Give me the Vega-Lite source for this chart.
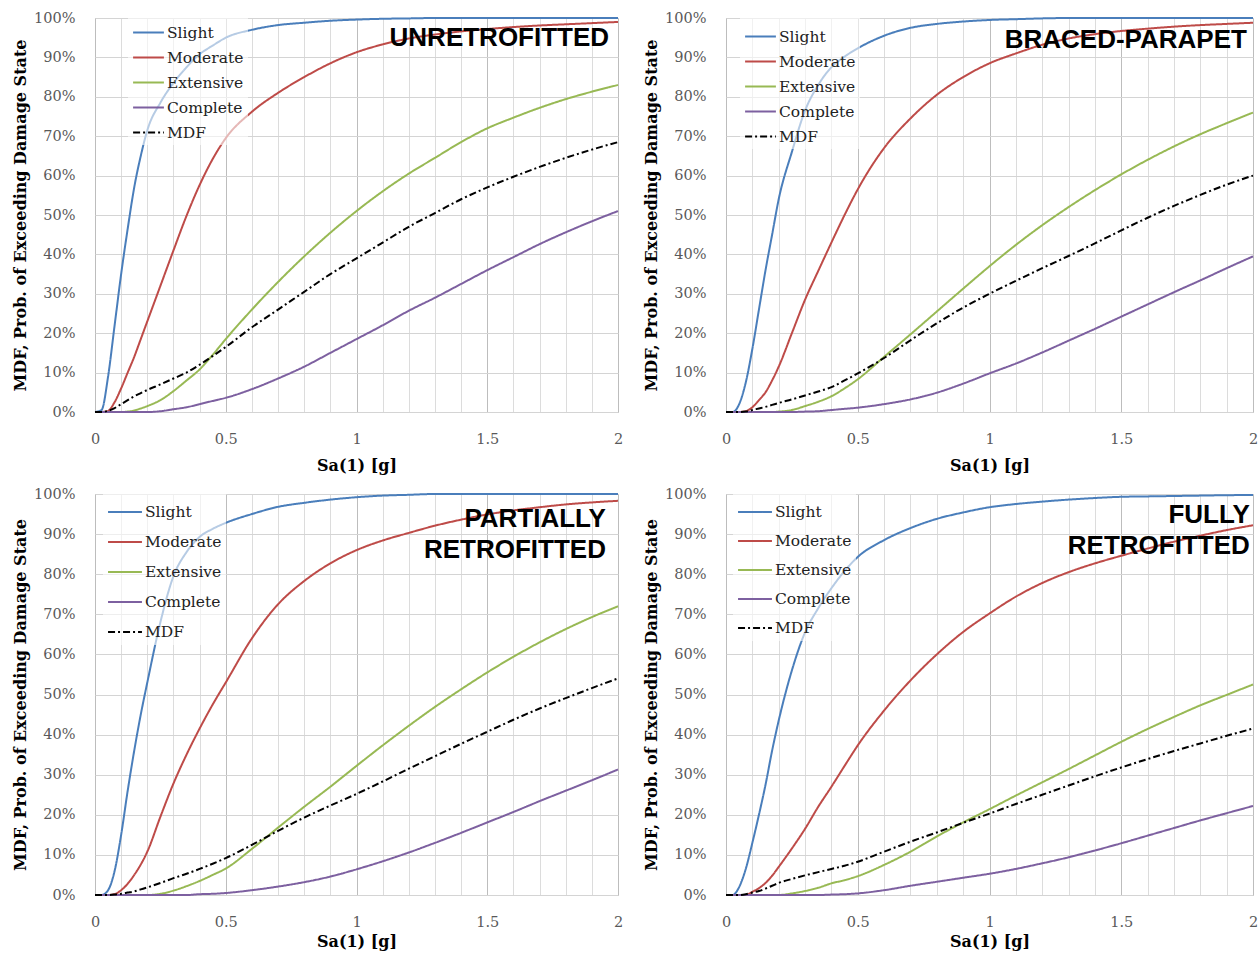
{
  "$schema": "https://vega.github.io/schema/vega-lite/v6.json",
  "padding": {"left": 12, "top": 9, "right": 5, "bottom": 5},
  "background": "white",
  "datasets": {
    "U": [
      {"x":0,"Slight":0,"Moderate":0,"Extensive":0,"Complete":0,"MDF":0},
      {"x":0.025,"Slight":0.5,"Moderate":0,"Extensive":0,"Complete":0,"MDF":0},
      {"x":0.05,"Slight":9,"Moderate":0.3,"Extensive":0,"Complete":0,"MDF":0.3},
      {"x":0.075,"Slight":22,"Moderate":2.5,"Extensive":0,"Complete":0,"MDF":1},
      {"x":0.1,"Slight":35,"Moderate":6,"Extensive":0,"Complete":0,"MDF":2},
      {"x":0.125,"Slight":46.5,"Moderate":10,"Extensive":0.1,"Complete":0,"MDF":3},
      {"x":0.15,"Slight":57,"Moderate":14,"Extensive":0.4,"Complete":0,"MDF":4},
      {"x":0.175,"Slight":65,"Moderate":18.5,"Extensive":0.9,"Complete":0,"MDF":4.8},
      {"x":0.2,"Slight":71.5,"Moderate":23,"Extensive":1.5,"Complete":0,"MDF":5.6},
      {"x":0.25,"Slight":78.5,"Moderate":32,"Extensive":3,"Complete":0.2,"MDF":7},
      {"x":0.3,"Slight":83.5,"Moderate":41,"Extensive":5.3,"Complete":0.7,"MDF":8.5},
      {"x":0.35,"Slight":87.5,"Moderate":49.8,"Extensive":8,"Complete":1.2,"MDF":10},
      {"x":0.4,"Slight":90.8,"Moderate":57.6,"Extensive":10.8,"Complete":2,"MDF":12},
      {"x":0.45,"Slight":93,"Moderate":64.2,"Extensive":14.5,"Complete":2.8,"MDF":14.2},
      {"x":0.5,"Slight":95,"Moderate":69.5,"Extensive":18.5,"Complete":3.6,"MDF":16.5},
      {"x":0.6,"Slight":97,"Moderate":76.2,"Extensive":26,"Complete":5.8,"MDF":21.5},
      {"x":0.7,"Slight":98.2,"Moderate":81,"Extensive":33,"Complete":8.5,"MDF":26},
      {"x":0.8,"Slight":98.8,"Moderate":85,"Extensive":39.5,"Complete":11.5,"MDF":30.5},
      {"x":0.9,"Slight":99.3,"Moderate":88.5,"Extensive":45.5,"Complete":15,"MDF":35},
      {"x":1.0,"Slight":99.6,"Moderate":91.3,"Extensive":51,"Complete":18.5,"MDF":39},
      {"x":1.1,"Slight":99.8,"Moderate":93.3,"Extensive":56,"Complete":22,"MDF":43},
      {"x":1.2,"Slight":99.9,"Moderate":94.8,"Extensive":60.5,"Complete":25.7,"MDF":47},
      {"x":1.3,"Slight":100,"Moderate":95.8,"Extensive":64.5,"Complete":29,"MDF":50.5},
      {"x":1.4,"Slight":100,"Moderate":96.6,"Extensive":68.5,"Complete":32.5,"MDF":54},
      {"x":1.5,"Slight":100,"Moderate":97.2,"Extensive":72,"Complete":36,"MDF":57},
      {"x":1.6,"Slight":100,"Moderate":97.7,"Extensive":74.7,"Complete":39.3,"MDF":59.7},
      {"x":1.7,"Slight":100,"Moderate":98.1,"Extensive":77.2,"Complete":42.6,"MDF":62.2},
      {"x":1.8,"Slight":100,"Moderate":98.4,"Extensive":79.4,"Complete":45.6,"MDF":64.5},
      {"x":1.9,"Slight":100,"Moderate":98.7,"Extensive":81.3,"Complete":48.4,"MDF":66.6},
      {"x":2.0,"Slight":100,"Moderate":99,"Extensive":83,"Complete":51,"MDF":68.5}
    ],
    "B": [
      {"x":0,"Slight":0,"Moderate":0,"Extensive":0,"Complete":0,"MDF":0},
      {"x":0.025,"Slight":0,"Moderate":0,"Extensive":0,"Complete":0,"MDF":0},
      {"x":0.05,"Slight":2,"Moderate":0,"Extensive":0,"Complete":0,"MDF":0},
      {"x":0.075,"Slight":7.5,"Moderate":0.2,"Extensive":0,"Complete":0,"MDF":0.1},
      {"x":0.1,"Slight":16,"Moderate":1.2,"Extensive":0,"Complete":0,"MDF":0.5},
      {"x":0.125,"Slight":26,"Moderate":3,"Extensive":0,"Complete":0,"MDF":0.9},
      {"x":0.15,"Slight":36,"Moderate":5,"Extensive":0,"Complete":0,"MDF":1.3},
      {"x":0.175,"Slight":45,"Moderate":8,"Extensive":0,"Complete":0,"MDF":1.8},
      {"x":0.2,"Slight":54,"Moderate":11.5,"Extensive":0.1,"Complete":0,"MDF":2.3},
      {"x":0.25,"Slight":66,"Moderate":20,"Extensive":0.5,"Complete":0,"MDF":3.2},
      {"x":0.3,"Slight":76.5,"Moderate":28.5,"Extensive":1.5,"Complete":0.1,"MDF":4.2},
      {"x":0.35,"Slight":83,"Moderate":35.8,"Extensive":2.6,"Complete":0.2,"MDF":5.2},
      {"x":0.4,"Slight":87.5,"Moderate":43,"Extensive":4,"Complete":0.5,"MDF":6.3},
      {"x":0.45,"Slight":90.2,"Moderate":50,"Extensive":6,"Complete":0.8,"MDF":8},
      {"x":0.5,"Slight":92.3,"Moderate":56.5,"Extensive":8.3,"Complete":1.1,"MDF":9.8},
      {"x":0.6,"Slight":95.5,"Moderate":67,"Extensive":14,"Complete":2,"MDF":13.7},
      {"x":0.7,"Slight":97.5,"Moderate":74.5,"Extensive":19.7,"Complete":3.2,"MDF":18.2},
      {"x":0.8,"Slight":98.5,"Moderate":80.5,"Extensive":25.5,"Complete":4.9,"MDF":22.5},
      {"x":0.9,"Slight":99.1,"Moderate":85,"Extensive":31.3,"Complete":7.2,"MDF":26.5},
      {"x":1.0,"Slight":99.5,"Moderate":88.5,"Extensive":37,"Complete":9.8,"MDF":30},
      {"x":1.1,"Slight":99.7,"Moderate":91,"Extensive":42.4,"Complete":12.3,"MDF":33.3},
      {"x":1.2,"Slight":99.9,"Moderate":93.2,"Extensive":47.4,"Complete":15.1,"MDF":36.5},
      {"x":1.3,"Slight":100,"Moderate":94.8,"Extensive":52,"Complete":18.1,"MDF":39.6},
      {"x":1.4,"Slight":100,"Moderate":95.9,"Extensive":56.3,"Complete":21.1,"MDF":42.8},
      {"x":1.5,"Slight":100,"Moderate":96.7,"Extensive":60.3,"Complete":24.2,"MDF":46.1},
      {"x":1.6,"Slight":100,"Moderate":97.3,"Extensive":64,"Complete":27.3,"MDF":49.3},
      {"x":1.7,"Slight":100,"Moderate":97.8,"Extensive":67.4,"Complete":30.4,"MDF":52.3},
      {"x":1.8,"Slight":100,"Moderate":98.2,"Extensive":70.5,"Complete":33.4,"MDF":55.1},
      {"x":1.9,"Slight":100,"Moderate":98.5,"Extensive":73.3,"Complete":36.5,"MDF":57.7},
      {"x":2.0,"Slight":100,"Moderate":98.8,"Extensive":76,"Complete":39.5,"MDF":60}
    ],
    "P": [
      {"x":0,"Slight":0,"Moderate":0,"Extensive":0,"Complete":0,"MDF":0},
      {"x":0.025,"Slight":0,"Moderate":0,"Extensive":0,"Complete":0,"MDF":0},
      {"x":0.05,"Slight":1.2,"Moderate":0,"Extensive":0,"Complete":0,"MDF":0},
      {"x":0.075,"Slight":6,"Moderate":0.2,"Extensive":0,"Complete":0,"MDF":0.1},
      {"x":0.1,"Slight":15,"Moderate":1.2,"Extensive":0,"Complete":0,"MDF":0.3},
      {"x":0.125,"Slight":26,"Moderate":2.8,"Extensive":0,"Complete":0,"MDF":0.6},
      {"x":0.15,"Slight":36,"Moderate":5,"Extensive":0,"Complete":0,"MDF":0.9},
      {"x":0.175,"Slight":45,"Moderate":7.6,"Extensive":0,"Complete":0,"MDF":1.4},
      {"x":0.2,"Slight":53,"Moderate":10.8,"Extensive":0,"Complete":0,"MDF":1.9},
      {"x":0.25,"Slight":68,"Moderate":19.5,"Extensive":0.3,"Complete":0,"MDF":3},
      {"x":0.3,"Slight":79.5,"Moderate":27.8,"Extensive":1.1,"Complete":0,"MDF":4.2},
      {"x":0.35,"Slight":85.5,"Moderate":35,"Extensive":2.2,"Complete":0,"MDF":5.3},
      {"x":0.4,"Slight":89.3,"Moderate":41.5,"Extensive":3.5,"Complete":0.2,"MDF":6.5},
      {"x":0.45,"Slight":91.3,"Moderate":47.5,"Extensive":5,"Complete":0.3,"MDF":7.8},
      {"x":0.5,"Slight":92.8,"Moderate":53,"Extensive":6.6,"Complete":0.5,"MDF":9.2},
      {"x":0.6,"Slight":95,"Moderate":64,"Extensive":11.5,"Complete":1.2,"MDF":12.5},
      {"x":0.7,"Slight":96.8,"Moderate":72.5,"Extensive":16.8,"Complete":2.1,"MDF":16},
      {"x":0.8,"Slight":97.8,"Moderate":78.3,"Extensive":22,"Complete":3.2,"MDF":19.3},
      {"x":0.9,"Slight":98.6,"Moderate":82.7,"Extensive":27,"Complete":4.6,"MDF":22.3},
      {"x":1.0,"Slight":99.2,"Moderate":86,"Extensive":32.2,"Complete":6.4,"MDF":25.2},
      {"x":1.1,"Slight":99.6,"Moderate":88.4,"Extensive":37.3,"Complete":8.4,"MDF":28.3},
      {"x":1.2,"Slight":99.8,"Moderate":90.3,"Extensive":42.2,"Complete":10.6,"MDF":31.5},
      {"x":1.3,"Slight":100,"Moderate":92.1,"Extensive":46.9,"Complete":13,"MDF":34.6},
      {"x":1.4,"Slight":100,"Moderate":93.6,"Extensive":51.3,"Complete":15.5,"MDF":37.7},
      {"x":1.5,"Slight":100,"Moderate":94.9,"Extensive":55.5,"Complete":18.1,"MDF":40.7},
      {"x":1.6,"Slight":100,"Moderate":95.9,"Extensive":59.4,"Complete":20.7,"MDF":43.7},
      {"x":1.7,"Slight":100,"Moderate":96.7,"Extensive":63,"Complete":23.4,"MDF":46.5},
      {"x":1.8,"Slight":100,"Moderate":97.4,"Extensive":66.3,"Complete":26,"MDF":49.1},
      {"x":1.9,"Slight":100,"Moderate":97.9,"Extensive":69.3,"Complete":28.6,"MDF":51.6},
      {"x":2.0,"Slight":100,"Moderate":98.3,"Extensive":72,"Complete":31.3,"MDF":54}
    ],
    "F": [
      {"x":0,"Slight":0,"Moderate":0,"Extensive":0,"Complete":0,"MDF":0},
      {"x":0.025,"Slight":0,"Moderate":0,"Extensive":0,"Complete":0,"MDF":0},
      {"x":0.05,"Slight":2,"Moderate":0,"Extensive":0,"Complete":0,"MDF":0},
      {"x":0.075,"Slight":6.5,"Moderate":0,"Extensive":0,"Complete":0,"MDF":0.2},
      {"x":0.1,"Slight":13,"Moderate":0.8,"Extensive":0,"Complete":0,"MDF":0.6},
      {"x":0.125,"Slight":20,"Moderate":1.7,"Extensive":0,"Complete":0,"MDF":1},
      {"x":0.15,"Slight":27.5,"Moderate":3,"Extensive":0,"Complete":0,"MDF":1.6},
      {"x":0.175,"Slight":36,"Moderate":4.8,"Extensive":0,"Complete":0,"MDF":2.3},
      {"x":0.2,"Slight":43.5,"Moderate":7,"Extensive":0,"Complete":0,"MDF":3},
      {"x":0.25,"Slight":56,"Moderate":11.6,"Extensive":0.4,"Complete":0,"MDF":4},
      {"x":0.3,"Slight":65.5,"Moderate":16.5,"Extensive":1,"Complete":0,"MDF":4.9},
      {"x":0.35,"Slight":71.5,"Moderate":22,"Extensive":1.8,"Complete":0,"MDF":5.7},
      {"x":0.4,"Slight":76.5,"Moderate":27,"Extensive":2.9,"Complete":0.1,"MDF":6.5},
      {"x":0.45,"Slight":80.8,"Moderate":32.2,"Extensive":3.7,"Complete":0.2,"MDF":7.3},
      {"x":0.5,"Slight":84.3,"Moderate":37.3,"Extensive":4.7,"Complete":0.4,"MDF":8.3},
      {"x":0.6,"Slight":88.5,"Moderate":46,"Extensive":7.5,"Complete":1.2,"MDF":10.8},
      {"x":0.7,"Slight":91.5,"Moderate":53.5,"Extensive":10.8,"Complete":2.3,"MDF":13.3},
      {"x":0.8,"Slight":93.8,"Moderate":60,"Extensive":14.6,"Complete":3.3,"MDF":15.6},
      {"x":0.9,"Slight":95.4,"Moderate":65.6,"Extensive":18.1,"Complete":4.3,"MDF":18},
      {"x":1.0,"Slight":96.7,"Moderate":70.2,"Extensive":21.4,"Complete":5.3,"MDF":20.3},
      {"x":1.1,"Slight":97.5,"Moderate":74.4,"Extensive":24.8,"Complete":6.5,"MDF":22.7},
      {"x":1.2,"Slight":98.1,"Moderate":77.8,"Extensive":28.1,"Complete":7.9,"MDF":25},
      {"x":1.3,"Slight":98.6,"Moderate":80.5,"Extensive":31.4,"Complete":9.4,"MDF":27.3},
      {"x":1.4,"Slight":99,"Moderate":82.7,"Extensive":34.8,"Complete":11.1,"MDF":29.6},
      {"x":1.5,"Slight":99.3,"Moderate":84.6,"Extensive":38.2,"Complete":12.9,"MDF":31.8},
      {"x":1.6,"Slight":99.4,"Moderate":86.4,"Extensive":41.4,"Complete":14.8,"MDF":33.9},
      {"x":1.7,"Slight":99.5,"Moderate":88.1,"Extensive":44.4,"Complete":16.7,"MDF":35.9},
      {"x":1.8,"Slight":99.6,"Moderate":89.6,"Extensive":47.3,"Complete":18.6,"MDF":37.8},
      {"x":1.9,"Slight":99.7,"Moderate":91,"Extensive":49.9,"Complete":20.4,"MDF":39.7},
      {"x":2.0,"Slight":99.75,"Moderate":92.2,"Extensive":52.5,"Complete":22.2,"MDF":41.5}
    ]
  },
  "columns": 2,
  "spacing": {"row": 11, "column": 19},
  "resolve": {
    "scale": {"color": "independent", "strokeDash": "independent"},
    "legend": {"color": "independent", "strokeDash": "independent"}
  },
  "concat": [
    {
      "width": 523, "height": 394,
      "layer": [
        {
          "data": {"name": "U"},
          "transform": [{"fold": ["Slight", "Moderate", "Extensive", "Complete", "MDF"], "as": ["s", "p"]}],
          "mark": {"type": "line", "strokeWidth": 2, "interpolate": "monotone"},
          "encoding": {
            "x": {"field": "x", "type": "quantitative", "scale": {"domain": [0, 2], "nice": false},
              "axis": {"title": "Sa(1) [g]", "tickCount": 30, "values": [0,0.1,0.2,0.3,0.4,0.5,0.6,0.7,0.8,0.9,1,1.1,1.2,1.3,1.4,1.5,1.6,1.7,1.8,1.9,2],
                "labelExpr": "round(datum.value*10) % 5 == 0 ? format(datum.value, '~g') : ''",
                "labelPadding": 20, "titlePadding": 12, "labelFlush": false, "labelOverlap": false,
                "gridColor": {"condition": {"test": "round(datum.value*10) % 5 == 0", "value": "#bdbdbd"}, "value": "#dcdcdc"}}},
            "y": {"field": "p", "type": "quantitative", "scale": {"domain": [0, 100], "nice": false},
              "axis": {"title": "MDF, Prob. of Exceeding Damage State", "tickCount": 15, "labelOverlap": false, "values": [0,10,20,30,40,50,60,70,80,90,100],
                "labelExpr": "datum.value + '%'", "labelPadding": 20, "titlePadding": 5}},
            "color": {"field": "s", "type": "nominal",
              "scale": {"domain": ["Slight", "Moderate", "Extensive", "Complete", "MDF"], "range": ["#4a7ebb", "#be4b48", "#98b954", "#7d60a0", "#000000"]},
              "legend": {"title": null, "orient": "none", "legendX": 33, "legendY": -6, "rowPadding": 0, "symbolSize": 950}},
            "strokeDash": {"field": "s", "type": "nominal",
              "scale": {"domain": ["Slight", "Moderate", "Extensive", "Complete", "MDF"], "range": [[1, 0], [1, 0], [1, 0], [1, 0], [7, 3, 2, 3]]},
              "legend": {"title": null, "orient": "none", "legendX": 33, "legendY": -6, "rowPadding": 0, "symbolSize": 950}}
          }
        },
        {
          "data": {"values": [{"t": "UNRETROFITTED"}]},
          "mark": {"type": "text", "font": "Liberation Sans", "fontWeight": "bold", "fontSize": 26, "align": "right", "baseline": "alphabetic", "color": "#000"},
          "encoding": {"x": {"datum": 1.966}, "y": {"datum": 93}, "text": {"field": "t"}}
        }
      ]
    },
    {
      "width": 527, "height": 394,
      "layer": [
        {
          "data": {"name": "B"},
          "transform": [{"fold": ["Slight", "Moderate", "Extensive", "Complete", "MDF"], "as": ["s", "p"]}],
          "mark": {"type": "line", "strokeWidth": 2, "interpolate": "monotone"},
          "encoding": {
            "x": {"field": "x", "type": "quantitative", "scale": {"domain": [0, 2], "nice": false},
              "axis": {"title": "Sa(1) [g]", "tickCount": 30, "values": [0,0.1,0.2,0.3,0.4,0.5,0.6,0.7,0.8,0.9,1,1.1,1.2,1.3,1.4,1.5,1.6,1.7,1.8,1.9,2],
                "labelExpr": "round(datum.value*10) % 5 == 0 ? format(datum.value, '~g') : ''",
                "labelPadding": 20, "titlePadding": 12, "labelFlush": false, "labelOverlap": false,
                "gridColor": {"condition": {"test": "round(datum.value*10) % 5 == 0", "value": "#bdbdbd"}, "value": "#dcdcdc"}}},
            "y": {"field": "p", "type": "quantitative", "scale": {"domain": [0, 100], "nice": false},
              "axis": {"title": "MDF, Prob. of Exceeding Damage State", "tickCount": 15, "labelOverlap": false, "values": [0,10,20,30,40,50,60,70,80,90,100],
                "labelExpr": "datum.value + '%'", "labelPadding": 20, "titlePadding": 5}},
            "color": {"field": "s", "type": "nominal",
              "scale": {"domain": ["Slight", "Moderate", "Extensive", "Complete", "MDF"], "range": ["#4a7ebb", "#be4b48", "#98b954", "#7d60a0", "#000000"]},
              "legend": {"title": null, "orient": "none", "legendX": 14, "legendY": -2, "rowPadding": 0, "symbolSize": 950}},
            "strokeDash": {"field": "s", "type": "nominal",
              "scale": {"domain": ["Slight", "Moderate", "Extensive", "Complete", "MDF"], "range": [[1, 0], [1, 0], [1, 0], [1, 0], [7, 3, 2, 3]]},
              "legend": {"title": null, "orient": "none", "legendX": 14, "legendY": -2, "rowPadding": 0, "symbolSize": 950}}
          }
        },
        {
          "data": {"values": [{"t": "BRACED-PARAPET"}]},
          "mark": {"type": "text", "font": "Liberation Sans", "fontWeight": "bold", "fontSize": 26, "align": "right", "baseline": "alphabetic", "color": "#000"},
          "encoding": {"x": {"datum": 1.977}, "y": {"datum": 92.3}, "text": {"field": "t"}}
        }
      ]
    },
    {
      "width": 523, "height": 401,
      "layer": [
        {
          "data": {"name": "P"},
          "transform": [{"fold": ["Slight", "Moderate", "Extensive", "Complete", "MDF"], "as": ["s", "p"]}],
          "mark": {"type": "line", "strokeWidth": 2, "interpolate": "monotone"},
          "encoding": {
            "x": {"field": "x", "type": "quantitative", "scale": {"domain": [0, 2], "nice": false},
              "axis": {"title": "Sa(1) [g]", "tickCount": 30, "values": [0,0.1,0.2,0.3,0.4,0.5,0.6,0.7,0.8,0.9,1,1.1,1.2,1.3,1.4,1.5,1.6,1.7,1.8,1.9,2],
                "labelExpr": "round(datum.value*10) % 5 == 0 ? format(datum.value, '~g') : ''",
                "labelPadding": 20, "titlePadding": 5, "labelFlush": false, "labelOverlap": false,
                "gridColor": {"condition": {"test": "round(datum.value*10) % 5 == 0", "value": "#bdbdbd"}, "value": "#dcdcdc"}}},
            "y": {"field": "p", "type": "quantitative", "scale": {"domain": [0, 100], "nice": false},
              "axis": {"title": "MDF, Prob. of Exceeding Damage State", "tickCount": 15, "labelOverlap": false, "values": [0,10,20,30,40,50,60,70,80,90,100],
                "labelExpr": "datum.value + '%'", "labelPadding": 20, "titlePadding": 5}},
            "color": {"field": "s", "type": "nominal",
              "scale": {"domain": ["Slight", "Moderate", "Extensive", "Complete", "MDF"], "range": ["#4a7ebb", "#be4b48", "#98b954", "#7d60a0", "#000000"]},
              "legend": {"title": null, "orient": "none", "legendX": 8, "legendY": -4, "rowPadding": 3}},
            "strokeDash": {"field": "s", "type": "nominal",
              "scale": {"domain": ["Slight", "Moderate", "Extensive", "Complete", "MDF"], "range": [[1, 0], [1, 0], [1, 0], [1, 0], [7, 3, 2, 3]]},
              "legend": {"title": null, "orient": "none", "legendX": 8, "legendY": -4, "rowPadding": 3}}
          }
        },
        {
          "data": {"values": [{"t": "PARTIALLY\nRETROFITTED"}]},
          "mark": {"type": "text", "font": "Liberation Sans", "fontWeight": "bold", "fontSize": 26, "align": "right", "baseline": "alphabetic", "color": "#000", "lineBreak": "\n", "lineHeight": 31},
          "encoding": {"x": {"datum": 1.954}, "y": {"datum": 91.8}, "text": {"field": "t"}}
        }
      ]
    },
    {
      "width": 527, "height": 401,
      "layer": [
        {
          "data": {"name": "F"},
          "transform": [{"fold": ["Slight", "Moderate", "Extensive", "Complete", "MDF"], "as": ["s", "p"]}],
          "mark": {"type": "line", "strokeWidth": 2, "interpolate": "monotone"},
          "encoding": {
            "x": {"field": "x", "type": "quantitative", "scale": {"domain": [0, 2], "nice": false},
              "axis": {"title": "Sa(1) [g]", "tickCount": 30, "values": [0,0.1,0.2,0.3,0.4,0.5,0.6,0.7,0.8,0.9,1,1.1,1.2,1.3,1.4,1.5,1.6,1.7,1.8,1.9,2],
                "labelExpr": "round(datum.value*10) % 5 == 0 ? format(datum.value, '~g') : ''",
                "labelPadding": 20, "titlePadding": 5, "labelFlush": false, "labelOverlap": false,
                "gridColor": {"condition": {"test": "round(datum.value*10) % 5 == 0", "value": "#bdbdbd"}, "value": "#dcdcdc"}}},
            "y": {"field": "p", "type": "quantitative", "scale": {"domain": [0, 100], "nice": false},
              "axis": {"title": "MDF, Prob. of Exceeding Damage State", "tickCount": 15, "labelOverlap": false, "values": [0,10,20,30,40,50,60,70,80,90,100],
                "labelExpr": "datum.value + '%'", "labelPadding": 20, "titlePadding": 5}},
            "color": {"field": "s", "type": "nominal",
              "scale": {"domain": ["Slight", "Moderate", "Extensive", "Complete", "MDF"], "range": ["#4a7ebb", "#be4b48", "#98b954", "#7d60a0", "#000000"]},
              "legend": {"title": null, "orient": "none", "legendX": 7, "legendY": -4, "rowPadding": 2}},
            "strokeDash": {"field": "s", "type": "nominal",
              "scale": {"domain": ["Slight", "Moderate", "Extensive", "Complete", "MDF"], "range": [[1, 0], [1, 0], [1, 0], [1, 0], [7, 3, 2, 3]]},
              "legend": {"title": null, "orient": "none", "legendX": 7, "legendY": -4, "rowPadding": 2}}
          }
        },
        {
          "data": {"values": [{"t": "FULLY\nRETROFITTED"}]},
          "mark": {"type": "text", "font": "Liberation Sans", "fontWeight": "bold", "fontSize": 26, "align": "right", "baseline": "alphabetic", "color": "#000", "lineBreak": "\n", "lineHeight": 31},
          "encoding": {"x": {"datum": 1.988}, "y": {"datum": 92.8}, "text": {"field": "t"}}
        }
      ]
    }
  ],
  "config": {
    "view": {"stroke": "#bfbfbf", "strokeWidth": 1},
    "axis": {
      "labelFont": "DejaVu Serif", "labelFontSize": 14.5, "labelColor": "#595959",
      "titleFont": "DejaVu Serif", "titleFontWeight": "bold", "titleFontSize": 16, "titleColor": "#000000",
      "ticks": false, "domain": false, "grid": true, "gridColor": "#d4d4d4", "gridWidth": 1
    },
    "legend": {
      "labelFont": "DejaVu Serif", "labelFontSize": 15.5, "labelColor": "#222222",
      "symbolType": "stroke", "symbolStrokeWidth": 2, "symbolSize": 1150, "labelOffset": 2,
      "padding": 4, "fillColor": "rgba(255,255,255,0.6)", "strokeColor": null
    }
  }
}
